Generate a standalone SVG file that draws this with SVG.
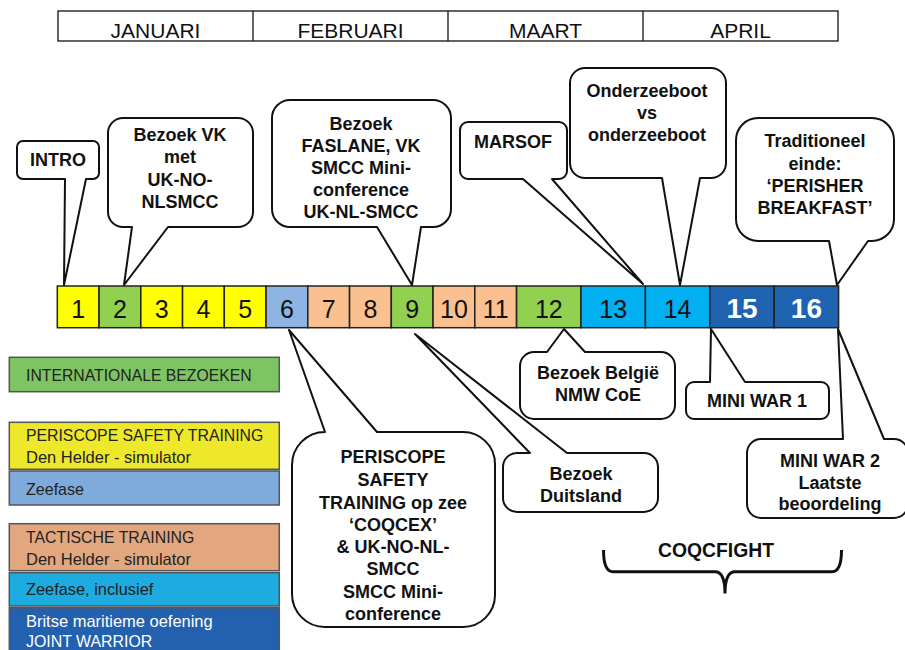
<svg xmlns="http://www.w3.org/2000/svg" width="905" height="650" viewBox="0 0 905 650">
<style>
  .hdr { fill:#fff; stroke:#111; stroke-width:1.3; }
  .hdrt { font-family:"Liberation Sans", Arial, sans-serif; font-size:21px; fill:#111; text-anchor:middle; }
  .tb { stroke:#222; stroke-width:1.5; }
  .num { font-family:"Liberation Sans", Arial, sans-serif; font-size:25px; fill:#111; text-anchor:middle; }
  .numw { font-family:"Liberation Sans", Arial, sans-serif; font-size:28px; font-weight:bold; fill:#fff; text-anchor:middle; }
  .co { fill:#fff; stroke:#111; stroke-width:2; stroke-linejoin:round; }
  .ct { font-family:"Liberation Sans", Arial, sans-serif; font-size:18px; font-weight:bold; fill:#111; text-anchor:middle; }
  .lg { stroke:#555; stroke-width:1.5; }
  .lt { font-family:"Liberation Sans", Arial, sans-serif; font-size:17px; fill:#222; }
  .y { fill:#FFFF00; } .g { fill:#92D050; } .lb { fill:#8DB4E2; } .p { fill:#FAC08F; } .c { fill:#00B0F0; } .d { fill:#1F62B0; }
</style>

<g id="header">
  <rect class="hdr" x="58" y="11" width="780" height="30"/>
  <line x1="253" y1="11" x2="253" y2="41" stroke="#111" stroke-width="1.3"/>
  <line x1="448" y1="11" x2="448" y2="41" stroke="#111" stroke-width="1.3"/>
  <line x1="643" y1="11" x2="643" y2="41" stroke="#111" stroke-width="1.3"/>
  <text class="hdrt" x="155.5" y="37.5">JANUARI</text>
  <text class="hdrt" x="350.5" y="37.5">FEBRUARI</text>
  <text class="hdrt" x="545.5" y="37.5">MAART</text>
  <text class="hdrt" x="740.5" y="37.5">APRIL</text>
</g>

<g id="timeline">
  <rect class="tb y" x="57.3" y="286" width="41.75" height="41.7"/>
  <rect class="tb g" x="99.05" y="286" width="41.75" height="41.7"/>
  <rect class="tb y" x="140.8" y="286" width="41.75" height="41.7"/>
  <rect class="tb y" x="182.55" y="286" width="41.75" height="41.7"/>
  <rect class="tb y" x="224.3" y="286" width="41.75" height="41.7"/>
  <rect class="tb lb" x="266.05" y="286" width="41.75" height="41.7"/>
  <rect class="tb p" x="307.8" y="286" width="41.75" height="41.7"/>
  <rect class="tb p" x="349.55" y="286" width="41.75" height="41.7"/>
  <rect class="tb g" x="391.3" y="286" width="41.75" height="41.7"/>
  <rect class="tb p" x="433.05" y="286" width="41.75" height="41.7"/>
  <rect class="tb p" x="474.8" y="286" width="41.75" height="41.7"/>
  <rect class="tb g" x="516.6" y="286" width="64.4" height="41.7"/>
  <rect class="tb c" x="581" y="286" width="64.4" height="41.7"/>
  <rect class="tb c" x="645.4" y="286" width="64.4" height="41.7"/>
  <rect class="tb d" x="709.8" y="286" width="64.4" height="41.7"/>
  <rect class="tb d" x="774.2" y="286" width="64.4" height="41.7"/>
  <text class="num" x="78.2" y="318">1</text>
  <text class="num" x="119.9" y="318">2</text>
  <text class="num" x="161.7" y="318">3</text>
  <text class="num" x="203.4" y="318">4</text>
  <text class="num" x="245.2" y="318">5</text>
  <text class="num" x="286.9" y="318">6</text>
  <text class="num" x="328.7" y="318">7</text>
  <text class="num" x="370.4" y="318">8</text>
  <text class="num" x="412.2" y="318">9</text>
  <text class="num" x="453.9" y="318">10</text>
  <text class="num" x="495.7" y="318">11</text>
  <text class="num" x="548.8" y="318">12</text>
  <text class="num" x="613.2" y="318">13</text>
  <text class="num" x="677.6" y="318">14</text>
  <text class="numw" x="742" y="318">15</text>
  <text class="numw" x="806.4" y="318">16</text>
</g>

<g id="connectors">
  <path class="co" d="M23,141 H93 A6,6 0 0 1 99,147 V173 A6,6 0 0 1 93,179 H86 L64,285 L65,179 H23 A6,6 0 0 1 17,173 V147 A6,6 0 0 1 23,141 Z"/>
  <path class="co" d="M123,118 H238 A15,15 0 0 1 253,133 V212 A15,15 0 0 1 238,227 H168 L124,285 L132,227 H123 A15,15 0 0 1 108,212 V133 A15,15 0 0 1 123,118 Z"/>
  <path class="co" d="M290,100 H433 A18,18 0 0 1 451,118 V209 A18,18 0 0 1 433,227 H421 L412,285 L377,227 H290 A18,18 0 0 1 272,209 V118 A18,18 0 0 1 290,100 Z"/>
  <path class="co" d="M468,122 H559 A8,8 0 0 1 567,130 V171 A8,8 0 0 1 559,179 H552 L643,284 L523,179 H468 A8,8 0 0 1 460,171 V130 A8,8 0 0 1 468,122 Z"/>
  <path class="co" d="M585,68 H711 A15,15 0 0 1 726,83 V163 A15,15 0 0 1 711,178 H700 L680,285 L662,178 H585 A15,15 0 0 1 570,163 V83 A15,15 0 0 1 585,68 Z"/>
  <path class="co" d="M758,118 H872 A22,22 0 0 1 894,140 V219 A22,22 0 0 1 872,241 H868 L837,285 L829,241 H758 A22,22 0 0 1 736,219 V140 A22,22 0 0 1 758,118 Z"/>
  <path class="co" d="M534,352 H547 L564,329 L585,352 H661 A14,14 0 0 1 675,366 V405 A14,14 0 0 1 661,419 H534 A14,14 0 0 1 520,405 V366 A14,14 0 0 1 534,352 Z"/>
  <path class="co" d="M694,382 H710 L711,329 L745,382 H821 A8,8 0 0 1 829,390 V411 A8,8 0 0 1 821,419 H694 A8,8 0 0 1 686,411 V390 A8,8 0 0 1 694,382 Z"/>
  <path class="co" d="M761,439 H843 L838,329 L884,439 H894 A14,14 0 0 1 908,453 V504 A14,14 0 0 1 894,518 H761 A14,14 0 0 1 747,504 V453 A14,14 0 0 1 761,439 Z"/>
  <path class="co" d="M517,453 H530 L415,334 L567,453 H644 A14,14 0 0 1 658,467 V498 A14,14 0 0 1 644,512 H517 A14,14 0 0 1 503,498 V467 A14,14 0 0 1 517,453 Z"/>
  <path class="co" d="M325,432 L289,330 L377,432 H463 A32,32 0 0 1 495,464 V595 A32,32 0 0 1 463,627 H325 A33,33 0 0 1 292,594 V465 A33,33 0 0 1 325,432 Z"/>
</g>

<g id="intro"><text class="ct" x="58" y="166">INTRO</text></g>
<g id="bezoek-vk">
  <text class="ct" x="180" y="141">Bezoek VK</text>
  <text class="ct" x="180" y="163">met</text>
  <text class="ct" x="180" y="185.5">UK-NO-</text>
  <text class="ct" x="180" y="207.5">NLSMCC</text>
</g>
<g id="bezoek-faslane">
  <text class="ct" x="361" y="130">Bezoek</text>
  <text class="ct" x="361" y="152">FASLANE, VK</text>
  <text class="ct" x="361" y="174">SMCC Mini-</text>
  <text class="ct" x="361" y="196">conference</text>
  <text class="ct" x="361" y="218">UK-NL-SMCC</text>
</g>
<g id="marsof"><text class="ct" x="513" y="148">MARSOF</text></g>
<g id="onderzeeboot">
  <text class="ct" x="647" y="97">Onderzeeboot</text>
  <text class="ct" x="647" y="119">vs</text>
  <text class="ct" x="647" y="141">onderzeeboot</text>
</g>
<g id="traditioneel">
  <text class="ct" x="815" y="147">Traditioneel</text>
  <text class="ct" x="815" y="170">einde:</text>
  <text class="ct" x="815" y="192">‘PERISHER</text>
  <text class="ct" x="815" y="214">BREAKFAST’</text>
</g>
<g id="bezoek-belgie">
  <text class="ct" x="598" y="379">Bezoek België</text>
  <text class="ct" x="598" y="401">NMW CoE</text>
</g>
<g id="mini-war-1"><text class="ct" x="757" y="407">MINI WAR 1</text></g>
<g id="mini-war-2">
  <text class="ct" x="830" y="467">MINI WAR 2</text>
  <text class="ct" x="830" y="488.5">Laatste</text>
  <text class="ct" x="830" y="510">beoordeling</text>
</g>
<g id="bezoek-duitsland">
  <text class="ct" x="581" y="479.5">Bezoek</text>
  <text class="ct" x="581" y="501.5">Duitsland</text>
</g>
<g id="periscope">
  <text class="ct" x="393" y="463">PERISCOPE</text>
  <text class="ct" x="393" y="486">SAFETY</text>
  <text class="ct" x="393" y="508.5">TRAINING op zee</text>
  <text class="ct" x="393" y="531">‘COQCEX’</text>
  <text class="ct" x="393" y="553">&amp; UK-NO-NL-</text>
  <text class="ct" x="393" y="575">SMCC</text>
  <text class="ct" x="393" y="598">SMCC Mini-</text>
  <text class="ct" x="393" y="620">conference</text>
</g>

<g id="coqcfight">
  <path d="M603.5,550 Q603.5,571.7 613,571.7 L715,571.7 Q725,571.7 725,593.5 Q725,571.7 735,571.7 L832,571.7 Q841.5,571.7 841.5,550" fill="none" stroke="#111" stroke-width="3"/>
  <text x="716" y="556.7" font-family="Liberation Sans, Arial, sans-serif" font-size="20" font-weight="bold" fill="#111" text-anchor="middle" textLength="116" lengthAdjust="spacingAndGlyphs">COQCFIGHT</text>
</g>

<g id="legend">
  <rect class="lg" x="9.3" y="357.3" width="270" height="34.4" fill="#7DC462"/>
  <text class="lt" x="26" y="380.7" textLength="225.7" lengthAdjust="spacingAndGlyphs">INTERNATIONALE BEZOEKEN</text>
  <rect class="lg" x="9.3" y="422.3" width="270" height="47" fill="#EDE829"/>
  <text class="lt" x="26" y="441" textLength="237.3" lengthAdjust="spacingAndGlyphs">PERISCOPE SAFETY TRAINING</text>
  <text class="lt" x="26" y="463.3" textLength="165" lengthAdjust="spacingAndGlyphs">Den Helder - simulator</text>
  <rect class="lg" x="9.3" y="471" width="270" height="34" fill="#7FABDC"/>
  <text class="lt" x="26" y="495" textLength="58" lengthAdjust="spacingAndGlyphs">Zeefase</text>
  <rect class="lg" x="9.3" y="523.7" width="270" height="47" fill="#E2A77F"/>
  <text class="lt" x="26" y="543.3" textLength="168.3" lengthAdjust="spacingAndGlyphs">TACTISCHE TRAINING</text>
  <text class="lt" x="26" y="565" textLength="165" lengthAdjust="spacingAndGlyphs">Den Helder - simulator</text>
  <rect class="lg" x="9.3" y="572.7" width="270" height="33.3" fill="#1DABE0"/>
  <text class="lt" x="26" y="595" textLength="127.3" lengthAdjust="spacingAndGlyphs">Zeefase, inclusief</text>
  <rect class="lg" x="9.3" y="607.7" width="270" height="50" fill="#2361AE"/>
  <text class="lt" x="26" y="627" fill="#fff" style="fill:#fff" textLength="186.7" lengthAdjust="spacingAndGlyphs">Britse maritieme oefening</text>
  <text class="lt" x="26" y="647" style="fill:#fff" textLength="126.3" lengthAdjust="spacingAndGlyphs">JOINT WARRIOR</text>
</g>
</svg>
